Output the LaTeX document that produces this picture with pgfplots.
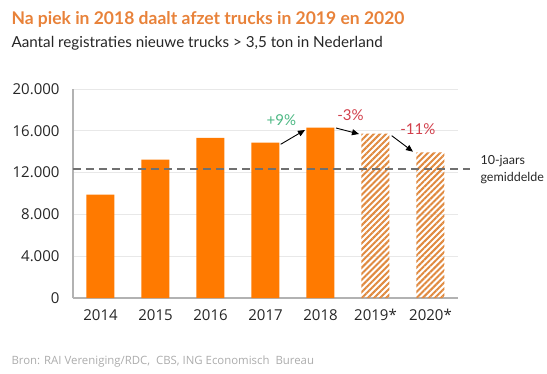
\documentclass[border=0pt]{standalone}
\usepackage{fontspec}
\setmainfont{Lato}
\newfontfamily\tickfont{Open Sans}
\usepackage{pgfplots}
\pgfplotsset{compat=1.18}
\usetikzlibrary{patterns.meta,arrows.meta}
\definecolor{ingorange}{HTML}{FF7A00}
\definecolor{titleorange}{HTML}{E8823A}
\definecolor{hatch}{HTML}{E08A40}
\definecolor{upgreen}{HTML}{4DB884}
\definecolor{downred}{HTML}{D2404C}
\definecolor{avggray}{HTML}{707070}
\begin{document}
\begin{tikzpicture}
\useasboundingbox (-73bp,-76bp) rectangle (474bp,298bp);
\begin{axis}[
  at={(0,0)}, anchor=south west,
  scale only axis, width=385bp, height=209bp,
  xmin=-0.5, xmax=6.5, ymin=0, ymax=20000,
  xtick={0,1,2,3,4,5,6},
  xticklabels={2014,2015,2016,2017,2018,2019*,2020*},
  ytick={0,4000,8000,12000,16000,20000},
  /pgf/number format/.cd, 1000 sep={.}, assume math mode=true,
  /pgfplots/.cd,
  scaled y ticks=false,
  axis x line*=bottom, axis y line*=left,
  axis line style={draw=gray!60, line width=1.3bp},
  major tick length=0pt,
  ymajorgrids, grid style={draw=gray!18, line width=0.8bp},
  tick label style={font=\tickfont\fontsize{15bp}{18bp}\selectfont, text=black!85},
  yticklabel style={xshift=-10bp},
  xticklabel style={yshift=-8bp},
  clip=false,
]
\addplot[ybar, bar width=28bp, bar shift=0pt, fill=ingorange, draw=none]
  coordinates {(0,9900) (1,13240) (2,15330) (3,14860) (4,16300)};
\addplot[ybar, bar width=28bp, bar shift=0pt, draw=none,
  pattern={Lines[angle=45,distance=4.3bp,line width=2bp]}, pattern color=hatch]
  coordinates {(5,15740) (6,13930)};
\addplot[draw=avggray, dash pattern=on 8bp off 5bp, line width=2bp]
  coordinates {(-0.5,12380) (6.72,12380)};
\draw[-{Triangle[length=7bp,width=6bp]}, line width=0.9bp] (axis cs:3.276,14708) -- (axis cs:3.718,16077);
\draw[-{Triangle[length=7bp,width=6bp]}, line width=0.9bp] (axis cs:4.282,16268) -- (axis cs:4.7,15694);
\draw[-{Triangle[length=7bp,width=6bp]}, line width=0.9bp] (axis cs:5.295,15531) -- (axis cs:5.682,14000);
\node[anchor=base, text=upgreen, font=\fontsize{15bp}{18bp}\selectfont] at (axis cs:3.29,16460) {+9\%};
\node[anchor=base, text=downred, font=\fontsize{15bp}{18bp}\selectfont] at (axis cs:4.545,16970) {-3\%};
\node[anchor=base, text=downred, font=\fontsize{15bp}{18bp}\selectfont] at (axis cs:5.77,15600) {-11\%};
\end{axis}
\node[anchor=base west, text=titleorange, font=\fontsize{17.5bp}{20bp}\selectfont\bfseries] at (-65bp,273bp) {Na piek in 2018 daalt afzet trucks in 2019 en 2020};
\node[anchor=base west, text=black!85, font=\fontsize{15.2bp}{18bp}\selectfont] at (-65bp,250bp) {Aantal registraties nieuwe trucks > 3,5 ton in Nederland};
\node[anchor=base west, text=black!85, font=\fontsize{12.5bp}{15bp}\selectfont] at (404bp,133bp) {10-jaars};
\node[anchor=base west, text=black!85, font=\fontsize{12.5bp}{15bp}\selectfont] at (404bp,116bp) {gemiddelde};
\node[anchor=base west, text=gray!65, font=\tickfont\fontsize{11.4bp}{14bp}\selectfont] at (-65bp,-66bp) {Bron: RAI Vereniging/RDC,\ \ CBS, ING Economisch\ \ Bureau};
\end{tikzpicture}
\end{document}
